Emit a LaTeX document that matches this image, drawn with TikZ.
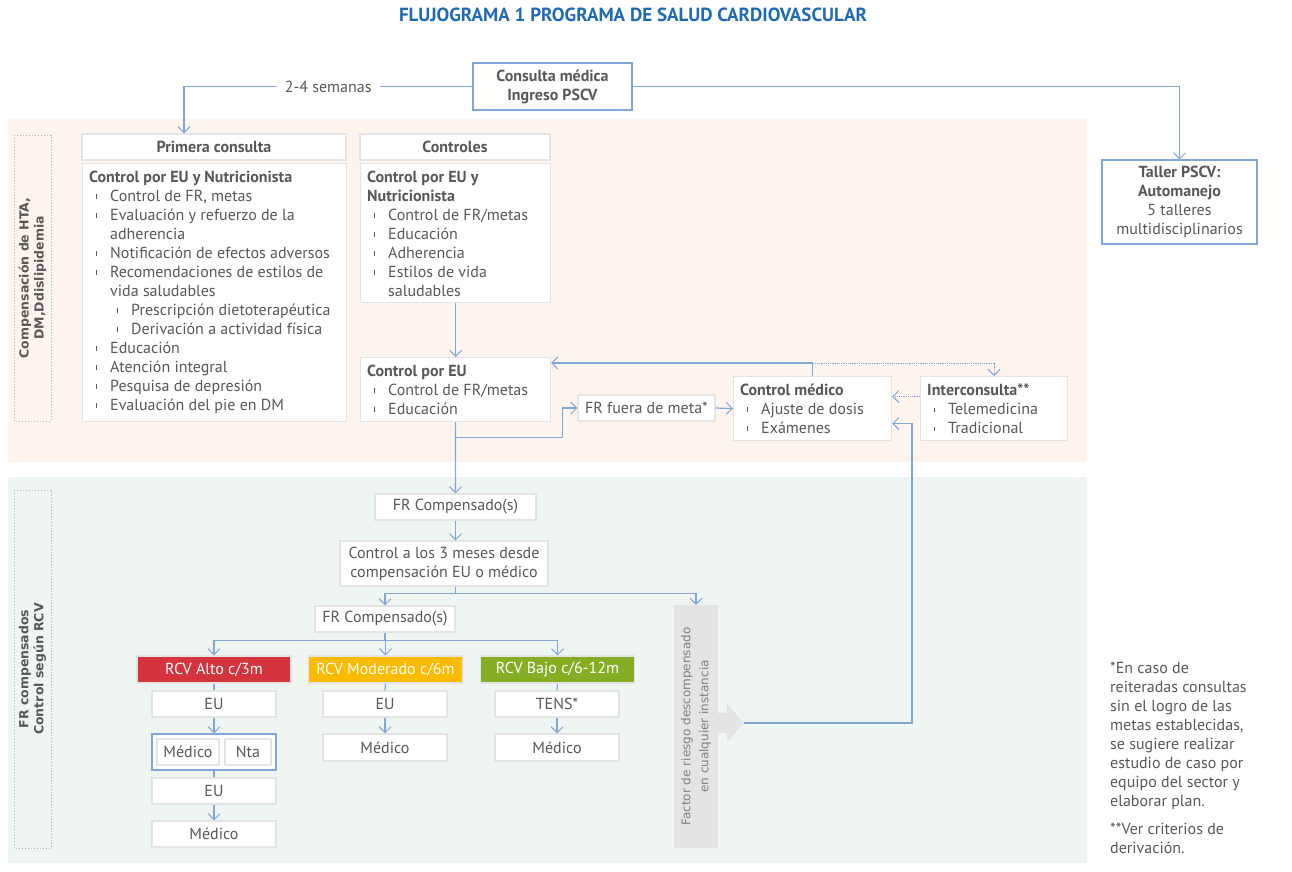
\documentclass[tikz,border=0pt]{standalone}
\usepackage{fontspec}
\setmainfont{PT Sans}
\newfontfamily\wide{DejaVu Sans}
\usetikzlibrary{arrows.meta}

\newcommand{\itm}{\makebox[21pt][l]{\hspace{7pt}\rule[2.8pt]{1pt}{4.5pt}}}
\newcommand{\subitm}{\makebox[42pt][l]{\hspace{28pt}\rule[2.8pt]{1pt}{4.5pt}}}
\newcommand{\wrapind}{\hspace*{21pt}}

\begin{document}
\begin{tikzpicture}[x=1pt, y=-1pt,
  every node/.style={text=txtgray},
  box/.style={draw=boxline, line width=1.2pt, fill=white, inner sep=0pt, font=\fontsize{16}{19}\selectfont},
  hdr/.style={box, font=\fontsize{16}{19}\selectfont\bfseries},
  lst/.style={align=left, inner sep=0pt, anchor=north west, font=\fontsize{16}{19}\selectfont},
  conn/.style={draw=linkblue, line width=1.2pt},
  arr/.style={conn, -{Straight Barb[length=6pt,width=12pt,line width=1pt]}},
  dotarr/.style={arr, densely dotted, line width=0.9pt},
  rcv/.style={box, text=white, minimum width=154, minimum height=27},
  side/.style={draw=gray!60, dotted, line width=1pt, rotate=90, align=center, minimum height=37,
    font=\wide\bfseries\fontsize{12.5}{15}\selectfont}]

% Colors
\definecolor{ttlblue}{RGB}{31,106,180}
\definecolor{linkblue}{RGB}{128,166,218}
\definecolor{boxline}{RGB}{228,228,228}
\definecolor{txtgray}{RGB}{88,88,88}
\definecolor{peach}{RGB}{253,244,238}
\definecolor{mint}{RGB}{239,245,241}
\definecolor{rcvred}{RGB}{211,52,62}
\definecolor{rcvyel}{RGB}{250,187,0}
\definecolor{rcvgrn}{RGB}{133,174,36}
\definecolor{bargray}{RGB}{228,228,228}

\useasboundingbox (0,0) rectangle (1292,871);

% Background bands
\fill[peach] (8,119) rectangle (1087,462);
\fill[mint] (8,477) rectangle (1087,863);

% Title
\node[font=\fontsize{19}{22}\selectfont\bfseries, text=ttlblue] (ttl) at (633,15) {FLUJOGRAMA 1 PROGRAMA DE SALUD CARDIOVASCULAR};

% Entry and workshop
\node[box, draw=linkblue, minimum width=159, minimum height=47, align=center, font=\fontsize{16}{19}\selectfont\bfseries] (cmed) at (552.5,86.5) {Consulta médica\\Ingreso PSCV};
\node[box, draw=linkblue, minimum width=155, minimum height=84, align=center] (tal) at (1179.5,202) {\textbf{Taller PSCV:}\\\textbf{Automanejo}\\5 talleres\\multidisciplinarios};

% Side labels
\node[side, minimum width=286] (lab1) at (32.5,278) {Compensación de HTA,\\DM,Ddislipidemia};
\node[side, minimum width=358] (lab2) at (32.5,669) {FR compensados\\Control según RCV};

% Primera consulta
\node[hdr, minimum width=264, minimum height=26] (pch) at (214,147) {Primera consulta};
\node[box, minimum width=264, minimum height=258, anchor=north west] (pcb) at (82,163) {};
\node[lst] (pct) at ([shift={(7,8)}]pcb.north west) {\textbf{Control por EU y Nutricionista}\\
\itm Control de FR, metas\\
\itm Evaluación y refuerzo de la\\
\wrapind adherencia\\
\itm Notificación de efectos adversos\\
\itm Recomendaciones de estilos de\\
\wrapind vida saludables\\
\subitm Prescripción dietoterapéutica\\
\subitm Derivación a actividad física\\
\itm Educación\\
\itm Atención integral\\
\itm Pesquisa de depresión\\
\itm Evaluación del pie en DM};

% Controles
\node[hdr, minimum width=190, minimum height=26] (ctlh) at (455,147) {Controles};
\node[box, minimum width=190, minimum height=139, anchor=north west] (ctlb) at (360,163) {};
\node[lst] (ctlt) at ([shift={(7,8)}]ctlb.north west) {\textbf{Control por EU y}\\
\textbf{Nutricionista}\\
\itm Control de FR/metas\\
\itm Educación\\
\itm Adherencia\\
\itm Estilos de vida\\
\wrapind saludables};

% Control por EU, medico, interconsulta
\node[box, minimum width=190, minimum height=64, anchor=north west] (ceub) at (360,357) {};
\node[lst] (ceut) at ([shift={(7,8)}]ceub.north west) {\textbf{Control por EU}\\
\itm Control de FR/metas\\
\itm Educación};
\node[box, minimum width=158, minimum height=64, anchor=north west] (cmdb) at (733,376) {};
\node[lst] (cmdt) at ([shift={(7,8)}]cmdb.north west) {\textbf{Control médico}\\
\itm Ajuste de dosis\\
\itm Exámenes};
\node[box, minimum width=147, minimum height=64, anchor=north west] (intb) at (920,376) {};
\node[lst] (intt) at ([shift={(7,8)}]intb.north west) {\textbf{Interconsulta**}\\
\itm Telemedicina\\
\itm Tradicional};
\node[box, minimum width=137, minimum height=26] (frf) at (646.5,408) {FR fuera de meta*};

% Compensated branch
\node[box, minimum width=161, minimum height=26] (frc1) at (455.5,507) {FR Compensado(s)};
\node[box, minimum width=208, minimum height=45, align=center] (cm3) at (444,563.5) {Control a los 3 meses desde\\compensación EU o médico};
\node[box, minimum width=140, minimum height=26] (frc2) at (385,619) {FR Compensado(s)};

\node[rcv, fill=rcvred] (alto) at (214,669.5) {RCV Alto c/3m};
\node[rcv, fill=rcvyel] (mod) at (385.5,669.5) {RCV Moderado c/6m};
\node[rcv, fill=rcvgrn] (bajo) at (557.5,669.5) {RCV Bajo c/6-12m};

\node[box, minimum width=124, minimum height=26] (eu1) at (214,704) {EU};
\node[box, minimum width=124, minimum height=26] (eu2) at (385,704) {EU};
\node[box, minimum width=124, minimum height=26] (tens) at (557,704) {TENS*};
\node[box, draw=linkblue, minimum width=124, minimum height=36] (grp) at (214,752) {};
\node[box, minimum width=62, minimum height=26] (med1) at (188,752) {Médico};
\node[box, minimum width=46, minimum height=26] (nta) at (248,752) {Nta};
\node[box, minimum width=124, minimum height=26] (eu3) at (214,791) {EU};
\node[box, minimum width=124, minimum height=26] (med2) at (214,834) {Médico};
\node[box, minimum width=124, minimum height=27] (med3) at (385,747.5) {Médico};
\node[box, minimum width=124, minimum height=27] (med4) at (557,747.5) {Médico};

% Decompensated bar
\node[rotate=90, fill=bargray, minimum width=243, minimum height=44, align=center, inner sep=0pt,
  font=\wide\fontsize{12}{18}\selectfont, text=gray] (fbar) at (696,726.5) {Factor de riesgo descompensado\\en cualquier instancia};
\coordinate (tip) at (744,723);
\fill[bargray] (718,713) -- (727,713) -- (727,704) -- (tip) -- (727,742) -- (727,733) -- (718,733) -- cycle;

% Footnotes
\node[anchor=north west, align=left, inner sep=0pt, font=\fontsize{16}{19}\selectfont] (nota) at (1110,662) {*En caso de\\
reiteradas consultas\\
sin el logro de las\\
metas establecidas,\\
se sugiere realizar\\
estudio de caso por\\
equipo del sector y\\
elaborar plan.\\[9pt]
**Ver criterios de\\
derivación.};

% Connectors
\draw[arr] (cmed.west) -| node[pos=0.25, fill=white, inner xsep=8pt, font=\fontsize{16}{19}\selectfont] (wks) {2-4 semanas} ([xshift=-30pt]pch.north);
\draw[arr] (cmed.east) -| (tal.north);
\draw[arr] (ctlb.south) -- (ceub.north);
\draw[arr] (cmdb.north) |- ([yshift=-6pt]ceub.north east);
\draw[dotarr] ([yshift=13pt]cmdb.north) -| (intb.north);
\draw[dotarr] ([yshift=12pt]intb.west) -- ([yshift=12pt]cmdb.east);
\draw[arr] (ceub.south) -- ++(0,15) -| ([xshift=-15pt]frf.west) -- (frf.west);
\draw[arr] (frf.east) -- (cmdb.west);
\draw[arr] (ceub.south) -- (frc1.north);
\draw[arr] (tip) -- ++(168,0) |- ([yshift=-15pt]cmdb.east);
\draw[arr] (frc1.south) -- (frc1.south |- cm3.north);
\draw[arr] (frc1.south |- cm3.south) -- ++(0,7) -| (frc2.north);
\draw[arr] (frc1.south |- cm3.south) -- ++(0,7) -| (fbar.east);
\foreach \n in {alto,mod,bajo}
  \draw[arr] (frc2.south) -- ++(0,8) -| (\n.north);
\draw[conn] (alto.south) -- (eu1.north);
\draw[conn] (mod.south) -- (eu2.north);
\draw[conn] (bajo.south) -- (tens.north);
\draw[arr] (eu1.south) -- (grp.north);
\draw[conn] (grp.south) -- (eu3.north);
\draw[arr] (eu3.south) -- (med2.north);
\draw[arr] (eu2.south) -- (med3.north);
\draw[arr] (tens.south) -- (med4.north);

\end{tikzpicture}
\end{document}
